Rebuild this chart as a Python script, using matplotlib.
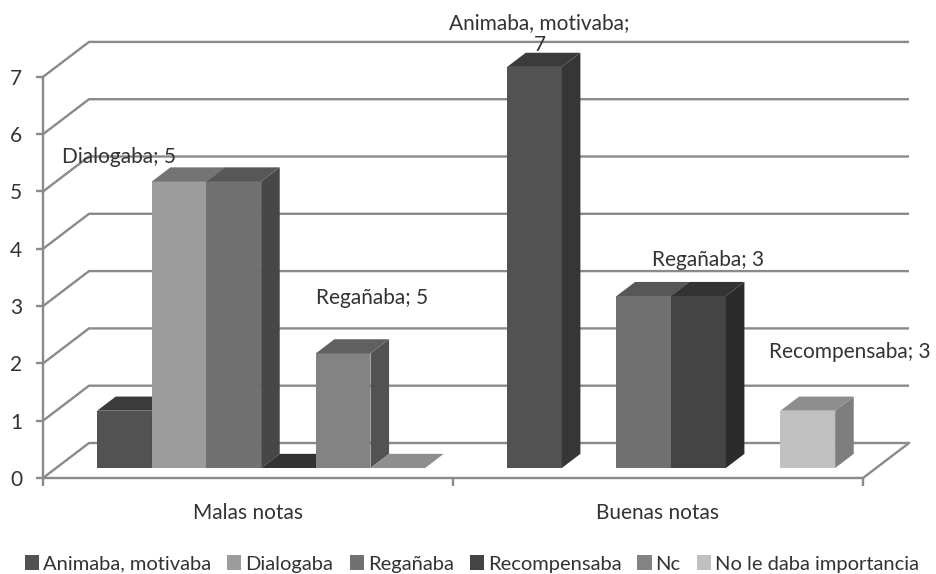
import matplotlib
matplotlib.use("Agg")
import matplotlib.pyplot as plt
from matplotlib.patches import Polygon, Rectangle, Patch
import numpy as np

plt.rcParams['font.family'] = ['Lato', 'DejaVu Sans']

# ---- data ----
categories = ["Malas notas", "Buenas notas"]
series = ["Animaba, motivaba", "Dialogaba", "Regañaba", "Recompensaba", "Nc",
          "No le daba importancia"]
malas_notas = [1, 5, 5, 0, 2, 0]
buenas_notas = [7, None, 3, 3, None, 1]
y_ticks = [0, 1, 2, 3, 4, 5, 6, 7]

values = [malas_notas, buenas_notas]

# face colours per series: front, top, side
front_colors = ["#525252", "#9c9c9c", "#717171", "#444444", "#838383", "#c0c0c0"]
top_colors = ["#3b3b3b", "#747474", "#575757", "#333333", "#606060", "#8e8e8e"]
side_colors = ["#363636", "#6a6a6a", "#474747", "#2b2b2b", "#525252", "#7e7e7e"]

# data labels: (category index, series index) -> pixel offset of label centre
# from the top-centre of the bar's front face
labels = {
    (0, 1): (-60, 24),
    (0, 2): (138, -117),
    (1, 0): (5, 33),
    (1, 2): (64, 36),
    (1, 3): (151, -56),
}

W, H, DPI = 936, 574, 100
fig = plt.figure(figsize=(W / DPI, H / DPI), dpi=DPI)
fig.patch.set_facecolor("white")

# front plane of the 3-D box
ax = fig.add_axes([43 / W, 96 / H, 820 / W, 401.1 / H])
ax.set_xlim(0, len(categories))
ax.set_ylim(0, 7)
ax.patch.set_alpha(0)

# depth vector of the back wall (in data units)
DX = 46 / 410
DY = 35 / (401.1 / 7)
F0, F1 = 0.286, 0.69          # bar depth slice
D = F1 - F0
GAP = 0.75                     # half of the gap between groups, in bar widths
bw = 1 / (len(series) + 2 * GAP)

grid_c = "#8a8a8a"
text_c = "#333333"
FS = 15

# walls: gridlines on the back wall with diagonals on the side wall
for v in y_ticks:
    ax.plot([0, DX, len(categories) + DX], [v, v + DY, v + DY],
            color=grid_c, lw=1.7, clip_on=False, zorder=1,
            solid_capstyle="butt")
# floor right edge
ax.plot([len(categories), len(categories) + DX], [0, DY], color=grid_c, lw=1.7,
        clip_on=False, zorder=1)

# bars
z = 3
for c, vals in enumerate(values):
    for i, v in enumerate(vals):
        if v is None:
            continue
        x0 = c + (GAP + i) * bw + F0 * DX
        y0 = F0 * DY
        if v > 0:
            ax.add_patch(Rectangle((x0, y0), bw, v, facecolor=front_colors[i],
                                   edgecolor="none", clip_on=False, zorder=z))
            ax.add_patch(Polygon([(x0 + bw, y0), (x0 + bw, y0 + v),
                                  (x0 + bw + D * DX, y0 + v + D * DY),
                                  (x0 + bw + D * DX, y0 + D * DY)],
                                 closed=True, facecolor=side_colors[i],
                                 edgecolor="none", clip_on=False, zorder=z))
        ax.add_patch(Polygon([(x0, y0 + v), (x0 + bw, y0 + v),
                              (x0 + bw + D * DX, y0 + v + D * DY),
                              (x0 + D * DX, y0 + v + D * DY)],
                             closed=True, facecolor=top_colors[i],
                             edgecolor="none", clip_on=False, zorder=z))
        z += 1
        if (c, i) in labels:
            ox, oy = labels[(c, i)]
            name = series[i]
            txt = f"{name};\n{v}" if i == 0 else f"{name}; {v}"
            ax.annotate(txt, xy=(x0 + bw / 2, y0 + v), xytext=(ox, oy),
                        textcoords="offset pixels", ha="center", va="center",
                        fontsize=FS, color=text_c, zorder=50,
                        annotation_clip=False, linespacing=1.15)

# axes styling
for s in ["top", "right"]:
    ax.spines[s].set_visible(False)
for s in ["left", "bottom"]:
    ax.spines[s].set_color(grid_c)
    ax.spines[s].set_linewidth(1.7)
    ax.spines[s].set_zorder(2)

ax.set_yticks(y_ticks)
ax.set_yticklabels([str(t) for t in y_ticks])
ax.tick_params(axis="y", direction="out", length=5, width=1.7, color=grid_c,
               labelsize=FS, labelcolor=text_c, pad=10)
ax.set_xticks(np.arange(len(categories) + 1))
ax.set_xticklabels([])
ax.set_xticks(np.arange(len(categories)) + 0.5, minor=True)
ax.set_xticklabels(categories, minor=True)
ax.tick_params(axis="x", which="major", direction="out", length=6, width=1.7,
               color=grid_c)
ax.tick_params(axis="x", which="minor", length=0, labelsize=FS,
               labelcolor=text_c, pad=18)

handles = [Patch(facecolor=front_colors[i], edgecolor="none", label=series[i])
           for i in range(len(series))]
fig.legend(handles=handles, loc="center", bbox_to_anchor=(472 / W, 1 - 564 / H),
           ncol=len(series), frameon=False, fontsize=14.5, handlelength=0.7,
           handleheight=0.7, handletextpad=0.2, columnspacing=0.8,
           labelcolor=text_c)

fig.savefig("out.png", dpi=DPI, facecolor="white")
